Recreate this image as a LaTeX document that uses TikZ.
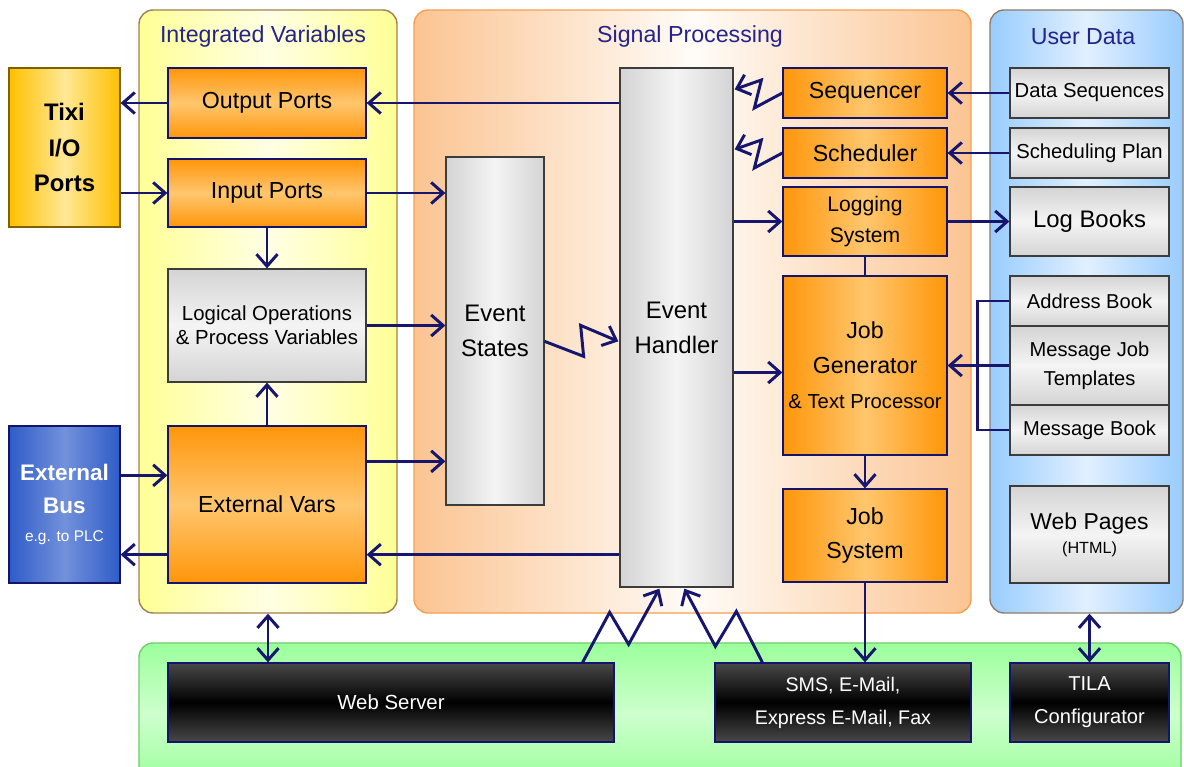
\documentclass[tikz,border=0pt]{standalone}
\usepackage{fontspec}
\setmainfont{Liberation Sans}
\usetikzlibrary{arrows.meta,calc}
\newcommand\fz[2]{\fontsize{#1pt}{#2pt}\selectfont}
% \bx{name}{style}{x1}{y1}{x2}{y2}{text}
\newcommand\bx[7]{\node[#2, minimum width={(#5-#3)*0.025cm}, minimum height={(#6-#4)*0.025cm}] (#1) at ({(#3+#5)/2},{(#4+#6)/2}) {#7};}
\definecolor{arr}{RGB}{22,22,110}
\definecolor{ttl}{RGB}{36,36,140}
\definecolor{navyb}{RGB}{20,20,110}
\definecolor{orD}{RGB}{255,150,10}
\definecolor{orL}{RGB}{255,198,110}
\definecolor{grD}{RGB}{212,212,212}
\definecolor{grL}{RGB}{244,244,244}
\definecolor{grB}{RGB}{60,60,60}
\definecolor{blkL}{RGB}{72,72,72}
\definecolor{ivD}{RGB}{255,255,150}
\definecolor{ivL}{RGB}{255,255,228}
\definecolor{ivB}{RGB}{160,128,80}
\definecolor{spD}{RGB}{251,196,146}
\definecolor{spL}{RGB}{255,252,248}
\definecolor{spB}{RGB}{247,160,80}
\definecolor{udD}{RGB}{153,204,255}
\definecolor{udL}{RGB}{225,240,255}
\definecolor{udB}{RGB}{140,125,110}
\definecolor{gpD}{RGB}{155,255,155}
\definecolor{gpL}{RGB}{205,255,205}
\definecolor{gpB}{RGB}{110,205,110}
\definecolor{goD}{RGB}{255,192,0}
\definecolor{goL}{RGB}{255,232,150}
\definecolor{goB}{RGB}{127,96,0}
\definecolor{ebD}{RGB}{46,92,200}
\definecolor{ebL}{RGB}{115,145,219}
\tikzset{
  box/.style={draw, inner sep=0pt, align=center, line width=0.9pt},
  orV/.style={box, draw=navyb, top color=orD, bottom color=orD, middle color=orL},
  orH/.style={box, draw=navyb, left color=orD, right color=orD, middle color=orL},
  grV/.style={box, draw=grB, top color=grD, bottom color=grD, middle color=grL},
  grH/.style={box, draw=grB, left color=grD, right color=grD, middle color=grL},
  blk/.style={box, draw=navyb, top color=blkL, bottom color=blkL, middle color=black, text=white},
  panel/.style={draw, rounded corners=10pt, line width=1pt, inner sep=0pt},
  ttlnode/.style={text=ttl, font=\fz{16.5}{19}},
  conn/.style={draw=arr, line width=2.1pt},
  arrow/.style={conn, -{Straight Barb[length=8.5pt,width=15pt]}},
  dbl/.style={conn, {Straight Barb[length=8.5pt,width=15pt]}-{Straight Barb[length=8.5pt,width=15pt]}}
}
\begin{document}
\begin{tikzpicture}[x=0.025cm, y=-0.025cm]
\clip (0,0) rectangle (1184,767);
\fill[white] (0,0) rectangle (1184,767);
% panels
\bx{iv}{panel, draw=ivB, left color=ivD, right color=ivD, middle color=ivL}{139}{10}{397}{613}{}
\bx{sp}{panel, draw=spB, left color=spD, right color=spD, middle color=spL}{414}{10}{971}{613}{}
\bx{ud}{panel, draw=udB, left color=udD, right color=udD, middle color=udL}{990}{10}{1183}{613}{}
\bx{gp}{panel, draw=gpB, top color=gpD, bottom color=gpD, middle color=gpL}{139}{643}{1181}{785}{}
\node[ttlnode] (tiv) at (263,37) {Integrated Variables};
\node[ttlnode] (tsp) at (690,37) {Signal Processing};
\node[ttlnode] (tud) at (1083,37) {User Data};
% left external boxes
\bx{tixi}{box, draw=goB, left color=goD, right color=goD, middle color=goL, font=\bfseries\fz{17}{25}}{9}{68}{120}{227}{Tixi\\I/O\\Ports}
\bx{eb}{box, draw=navyb, left color=ebD, right color=ebD, middle color=ebL, text=white, font=\bfseries\fz{16}{23}}{9}{426}{120}{583}{External\\Bus\\[-3pt]{\mdseries\fz{11}{13}e.g. to PLC}}
% integrated variables
\bx{outp}{orV, font=\fz{16.5}{20}}{168}{68}{366}{138}{Output Ports}
\bx{inp}{orV, font=\fz{16.5}{20}}{168}{159}{366}{227}{Input Ports}
\bx{lo}{grV, font=\fz{14.5}{17}}{168}{269}{366}{382}{Logical Operations\\\& Process Variables}
\bx{ev}{orV, font=\fz{16.5}{20}}{168}{426}{366}{583}{External Vars}
% signal processing
\bx{es}{grH, font=\fz{17}{25}}{446}{157}{544}{505}{Event\\States}
\bx{eh}{grH, font=\fz{17}{25}}{620}{68}{733}{587}{Event\\Handler}
\bx{seq}{orH, font=\fz{16.5}{20}}{783}{68}{947}{118}{Sequencer}
\bx{sch}{orH, font=\fz{16.5}{20}}{783}{128}{947}{178}{Scheduler}
\bx{log}{orH, font=\fz{15}{22}}{783}{187}{947}{256}{Logging\\System}
\bx{jg}{orH, font=\fz{16.5}{25}}{783}{276}{947}{455}{Job\\Generator\\{\fz{14.4}{25}\& Text Processor}}
\bx{js}{orH, font=\fz{16.5}{24}}{783}{489}{947}{582}{Job\\System}
% user data
\bx{ds}{grV, font=\fz{14.4}{17}}{1010}{68}{1169}{118}{Data Sequences}
\bx{spn}{grV, font=\fz{14.4}{17}}{1010}{128}{1169}{178}{Scheduling Plan}
\bx{lb}{grV, font=\fz{17}{20}}{1010}{187}{1169}{256}{Log Books}
\bx{ab}{grV, font=\fz{14.3}{20.5}}{1010}{276}{1169}{326}{Address Book}
\bx{mjt}{grV, font=\fz{14.3}{20.5}}{1010}{326}{1169}{405}{Message Job\\Templates}
\bx{mb}{grV, font=\fz{14.3}{20.5}}{1010}{405}{1169}{455}{Message Book}
\bx{wp}{grV, font=\fz{16.3}{17}}{1010}{486}{1169}{583}{Web Pages\\{\fz{11.5}{17}(HTML)}}
% bottom
\bx{ws}{blk, font=\fz{14.5}{20}}{168}{663}{614}{742}{Web Server}
\bx{sms}{blk, font=\fz{14}{23.4}}{715}{663}{971}{742}{SMS, E-Mail,\\Express E-Mail, Fax}
\bx{tila}{blk, font=\fz{14.3}{23.4}}{1010}{663}{1169}{742}{TILA\\Configurator}
% helper coordinates
\coordinate (evl) at ($(ev.south west)+(0,-29)$);
\coordinate (ebr) at ($(eb.north east)+(0,50)$);
\coordinate (evr) at ($(ev.north east)+(0,36)$);
\coordinate (jgl) at ($(jg.west)+(0,7)$);
% connectors
\draw[arrow] (outp.west) -- (outp.west -| tixi.east);
\draw[arrow] (eh.west |- outp.east) -- (outp.east);
\draw[arrow] (tixi.east |- inp.west) -- (inp.west);
\draw[arrow] (inp.east) -- (inp.east -| es.west);
\draw[arrow] (inp.south) -- (lo.north);
\draw[arrow] (ev.north) -- (lo.south);
\draw[arrow] (lo.east) -- (lo.east -| es.west);
\draw[arrow] (evr) -- (evr -| es.west);
\draw[arrow] (ebr) -- (ebr -| ev.west);
\draw[arrow] (evl) -- (evl -| eb.east);
\draw[arrow] (eh.west |- evl) -- (evl -| ev.east);
\draw[arrow] ($(es.north east)+(0,185)$) -- ++(39,15) -- ++(-3,-31) -- ($(eh.north west)+(-1,274)$);
\draw[arrow] (seq.west) -- ++(-28,15) -- ++(7,-28) -- ($(eh.north east)+(1,22)$);
\draw[arrow] (sch.west) -- ++(-28,15) -- ++(7,-28) -- ($(eh.north east)+(1,82)$);
\draw[arrow] (eh.east |- log.west) -- (log.west);
\draw[conn] (log.south) -- (jg.north);
\draw[arrow] (log.east) -- (lb.west);
\draw[arrow] (ds.west) -- (seq.east);
\draw[arrow] (spn.west) -- (sch.east);
\draw[arrow] (eh.east |- jgl) -- (jgl);
\draw[conn] (ab.west) -- ++(-32,0) |- (mb.west);
\draw[arrow] (mjt.west) -- (mjt.west -| jg.east);
\draw[arrow] (jg.south) -- (js.north);
\draw[arrow] (js.south) -- (js.south |- sms.north);
\draw[dbl] (iv.south) -- (iv.south |- ws.north);
\draw[dbl] (tila.north |- ud.south) -- (tila.north);
\draw[arrow] ($(ws.north east)+(-32,0)$) -- ++(27,-50) -- ++(19,32) -- ($(eh.south west)+(40,1)$);
\draw[arrow] ($(sms.north west)+(48,0)$) -- ++(-26,-51) -- ++(-21,35) -- ($(eh.south west)+(65,1)$);
\end{tikzpicture}
\end{document}
